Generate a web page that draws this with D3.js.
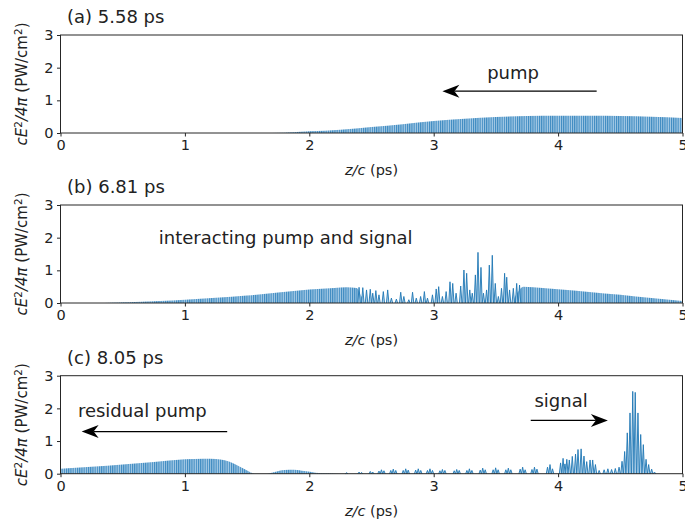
<!DOCTYPE html>
<html>
<head>
<meta charset="utf-8">
<script src="https://cdn.jsdelivr.net/npm/d3@7"></script>
<style>
  body { margin: 0; background: #fff; }
  text { font-family: "DejaVu Sans", sans-serif; fill: #222; }
</style>
</head>
<body>
<script>
// envelopes of the dense carrier, [z/c (ps), cE^2/4pi (PW/cm^2)]
const envA = [[1.6, 0], [1.8, 0.01], [2.0, 0.05], [2.25, 0.1], [2.5, 0.18], [2.75, 0.27], [3.0, 0.37], [3.25, 0.44], [3.5, 0.49], [3.75, 0.52], [4.0, 0.53], [4.25, 0.53], [4.5, 0.52], [4.75, 0.5], [5.0, 0.46]]
const envB = [[0.35, 0], [0.6, 0.03], [0.8, 0.06], [1.0, 0.1], [1.25, 0.16], [1.5, 0.23], [1.75, 0.32], [2.0, 0.41], [2.2, 0.46], [2.3, 0.48], [2.38, 0.46], [2.42, 0.2], [2.45, 0],
              [3.62, 0], [3.67, 0.3], [3.72, 0.5], [3.8, 0.48], [4.0, 0.42], [4.25, 0.34], [4.5, 0.25], [4.75, 0.15], [5.0, 0.06]]
const envC = [[0, 0.15], [0.25, 0.21], [0.5, 0.28], [0.75, 0.36], [1.0, 0.44], [1.15, 0.46], [1.25, 0.45], [1.32, 0.41], [1.4, 0.3], [1.47, 0.16], [1.53, 0.04], [1.57, 0],
              [1.66, 0], [1.72, 0.05], [1.8, 0.11], [1.88, 0.12], [1.96, 0.08], [2.05, 0.03], [2.15, 0.01], [2.25, 0], [4.8, 0]]

// resolved spikes, [z/c, peak]
const spikesB = [[2.40, 0.48], [2.43, 0.47], [2.46, 0.40], [2.49, 0.42], [2.51, 0.3], [2.535, 0.38], [2.56, 0.25], [2.595, 0.35], [2.63, 0.40], [2.66, 0.15],
                 [2.70, 0.12], [2.735, 0.33], [2.76, 0.2], [2.80, 0.1], [2.83, 0.33], [2.86, 0.15], [2.895, 0.2], [2.925, 0.35], [2.95, 0.15], [2.99, 0.25],
                 [3.02, 0.43], [3.04, 0.5], [3.07, 0.2], [3.10, 0.35], [3.131, 0.65], [3.153, 0.6], [3.18, 0.3], [3.217, 0.52], [3.243, 1.01], [3.265, 0.91],
                 [3.29, 0.4], [3.31, 0.3], [3.335, 0.86], [3.356, 1.55], [3.38, 1.09], [3.40, 0.3], [3.425, 0.4], [3.447, 1.16], [3.471, 1.46], [3.495, 0.6],
                 [3.52, 0.2], [3.545, 0.45], [3.57, 0.91], [3.587, 0.79], [3.61, 0.4], [3.64, 0.45], [3.667, 0.6], [3.69, 0.55]]
const spikesC = [[2.30, 0.03], [2.40, 0.05], [2.42, 0.04], [2.49, 0.07], [2.51, 0.05], [2.56, 0.08], [2.58, 0.12], [2.60, 0.09], [2.655, 0.1], [2.675, 0.14],
                 [2.695, 0.1], [2.755, 0.1], [2.775, 0.15], [2.795, 0.11], [2.855, 0.11], [2.876, 0.15], [2.896, 0.1], [2.95, 0.1], [2.97, 0.15], [2.99, 0.1],
                 [3.05, 0.09], [3.07, 0.13], [3.09, 0.1], [3.165, 0.09], [3.185, 0.13], [3.205, 0.1], [3.267, 0.1], [3.287, 0.15], [3.307, 0.1], [3.374, 0.11],
                 [3.394, 0.17], [3.414, 0.12], [3.478, 0.12], [3.498, 0.18], [3.518, 0.12], [3.58, 0.12], [3.60, 0.17], [3.62, 0.12], [3.695, 0.14], [3.715, 0.2],
                 [3.735, 0.12], [3.79, 0.13], [3.81, 0.2], [3.83, 0.14], [3.915, 0.2], [3.935, 0.28], [3.955, 0.15], [4.02, 0.33], [4.04, 0.47], [4.055, 0.3],
                 [4.07, 0.44], [4.09, 0.42], [4.114, 0.53], [4.14, 0.6], [4.16, 0.74], [4.185, 0.76], [4.208, 0.54], [4.23, 0.37], [4.257, 0.42], [4.278, 0.42],
                 [4.3, 0.28], [4.33, 0.1], [4.37, 0.12], [4.40, 0.15], [4.43, 0.13], [4.46, 0.16], [4.49, 0.2], [4.514, 0.38], [4.535, 0.68], [4.556, 1.25],
                 [4.578, 1.86], [4.60, 2.52], [4.62, 2.49], [4.642, 1.86], [4.664, 1.2], [4.685, 0.89], [4.707, 0.44], [4.728, 0.28], [4.752, 0.14], [4.775, 0.05]]

const titles = ["(a) 5.58 ps", "(b) 6.81 ps", "(c) 8.05 ps"]
const xTicks = [0, 1, 2, 3, 4, 5]
const yTicks = [0, 1, 2, 3]

// annotations: text [z, y], arrow [from z, to z, y]
const notes = [
    {panel: 0, text: "pump", at: [3.43, 1.65], arrow: [4.31, 3.07, 1.28]},
    {panel: 1, text: "interacting pump and signal", at: [0.79, 1.8], arrow: null},
    {panel: 2, text: "residual pump", at: [0.14, 1.75], arrow: [1.34, 0.17, 1.29]},
    {panel: 2, text: "signal", at: [3.81, 2.04], arrow: [3.78, 4.4, 1.63]}
]

const Width = 685
const Height = 525
const Left = 60.5
const Right = 682.5
const PanelTops = [35, 205, 375.7]
const PanelHeight = 98
const Blue = "#1f77b4"
const SpikeHalf = 0.01

const svg = d3.select("body").append("svg")
    .attr("width", Width)
    .attr("height", Height)

// dense carrier shown as fine vertical stripes
const pat = svg.append("defs").append("pattern")
    .attr("id", "carrier")
    .attr("patternUnits", "userSpaceOnUse")
    .attr("width", 2.2)
    .attr("height", 10)
pat.append("rect").attr("width", 2.2).attr("height", 10).attr("fill", "#a9cce6")
pat.append("rect").attr("width", 1.1).attr("height", 10).attr("fill", "#3a88c0")

const x = d3.scaleLinear().domain([0, 5]).range([Left, Right])

const envs = [envA, envB, envC]
const spikes = [[], spikesB, spikesC]

function arrowHead(g, tx, ty, dir) {
    // concave matplotlib style head, dir = -1 points left
    const L = 17, W = 6.5, N = 5
    g.append("path")
        .attr("d", `M${tx},${ty} L${tx - dir * L},${ty - W} L${tx - dir * (L - N)},${ty} L${tx - dir * L},${ty + W} Z`)
        .attr("fill", "#000")
}

PanelTops.forEach((top, i) => {
    const y = d3.scaleLinear().domain([0, 3]).range([top + PanelHeight, top])
    const g = svg.append("g")

    const area = d3.area()
        .x(d => x(d[0]))
        .y0(y(0))
        .y1(d => y(d[1]))
        .curve(d3.curveMonotoneX)
    g.append("path")
        .attr("d", area(envs[i]))
        .attr("fill", "url(#carrier)")

    g.selectAll("path.spike")
        .data(spikes[i])
        .join("path")
        .attr("class", "spike")
        .attr("d", d => `M${x(d[0] - SpikeHalf)},${y(0)} L${x(d[0])},${y(d[1])} L${x(d[0] + SpikeHalf)},${y(0)}`)
        .attr("fill", "#b4d3ea")
        .attr("stroke", Blue)
        .attr("stroke-width", 0.9)
        .attr("stroke-linejoin", "round")

    // frame
    g.append("rect")
        .attr("x", Left)
        .attr("y", top)
        .attr("width", Right - Left)
        .attr("height", PanelHeight)
        .attr("fill", "none")
        .attr("stroke", "#262626")
        .attr("stroke-width", 1)

    const xa = g.append("g")
        .attr("transform", `translate(0,${top + PanelHeight})`)
        .call(d3.axisBottom(x).tickValues(xTicks).tickFormat(d3.format("d")).tickSize(3.5).tickPadding(3.5))
    const ya = g.append("g")
        .attr("transform", `translate(${Left},0)`)
        .call(d3.axisLeft(y).tickValues(yTicks).tickFormat(d3.format("d")).tickSize(3.5).tickPadding(3.5))
    for (const a of [xa, ya]) {
        a.select(".domain").remove()
        a.selectAll("line").attr("stroke", "#262626")
        a.selectAll("text").attr("font-size", "14.5px").attr("font-family", "DejaVu Sans").attr("fill", "#222")
    }

    g.append("text")
        .attr("x", 67)
        .attr("y", top - 12)
        .attr("font-size", "18px")
        .text(titles[i])

    const xl = g.append("text")
        .attr("x", (Left + Right) / 2)
        .attr("y", top + PanelHeight + 42)
        .attr("text-anchor", "middle")
        .attr("font-size", "14.5px")
    xl.append("tspan").attr("font-style", "italic").text("z/c")
    xl.append("tspan").text(" (ps)")

    const yl = g.append("text")
        .attr("transform", `translate(27,${top + PanelHeight / 2}) rotate(-90)`)
        .attr("text-anchor", "middle")
        .attr("font-size", "15px")
    yl.append("tspan").attr("font-style", "italic").text("cE")
    yl.append("tspan").attr("font-size", "10.5px").attr("dy", -5.5).text("2")
    yl.append("tspan").attr("dy", 5.5).attr("font-style", "italic").text("/4π")
    yl.append("tspan").text(" (PW/cm")
    yl.append("tspan").attr("font-size", "10.5px").attr("dy", -5.5).text("2")
    yl.append("tspan").attr("dy", 5.5).text(")")

    for (const n of notes.filter(n => n.panel == i)) {
        g.append("text")
            .attr("x", x(n.at[0]))
            .attr("y", y(n.at[1]))
            .attr("font-size", "18px")
            .text(n.text)
        if (n.arrow) {
            const [a0, a1, ay] = n.arrow
            const dir = a1 > a0 ? 1 : -1
            g.append("line")
                .attr("x1", x(a0)).attr("y1", y(ay))
                .attr("x2", x(a1) - dir * 12).attr("y2", y(ay))
                .attr("stroke", "#000")
                .attr("stroke-width", 1.3)
            arrowHead(g, x(a1), y(ay), dir)
        }
    }
})
</script>
</body>
</html>
